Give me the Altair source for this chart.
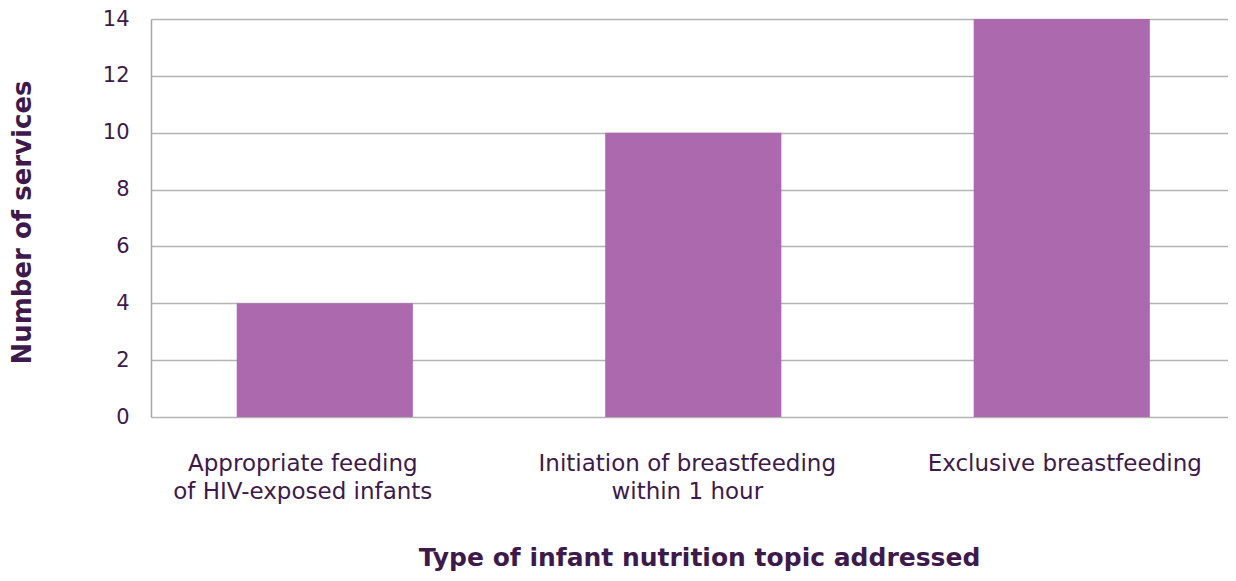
import altair as alt
import pandas as pd

categories = ["Appropriate feeding|of HIV-exposed infants",
              "Initiation of breastfeeding|within 1 hour",
              "Exclusive breastfeeding"]
values = [4, 10, 14]

df = pd.DataFrame({"topic": categories, "n": values})

TXT = "#3d1a4b"
FONT = "DejaVu Sans"

label_offset = {
    "condition": [
        {"test": "indexof(datum.value, 'Appropriate') == 0", "value": -22},
        {"test": "indexof(datum.value, 'Initiation') == 0", "value": -6},
    ],
    "value": 3,
}

chart = alt.Chart(df).mark_bar(color="#ad69ad").encode(
    x=alt.X("topic:N", sort=categories,
            scale=alt.Scale(paddingInner=0.522, paddingOuter=0.2224, align=0.523),
            axis=alt.Axis(title="Type of infant nutrition topic addressed",
                          labelExpr="split(datum.label, '|')",
                          labelAngle=0, labelFontSize=23, labelColor=TXT,
                          labelFont=FONT, labelLineHeight=28, labelPadding=53,
                          labelBaseline="alphabetic", labelLimit=500,
                          labelOffset=label_offset,
                          domain=False, ticks=False, grid=False,
                          titleFont=FONT, titleFontSize=25, titleFontWeight="bold",
                          titleColor=TXT, titleX=548, titleY=140,
                          titleBaseline="middle", titleAlign="center")),
    y=alt.Y("n:Q", scale=alt.Scale(domain=[0, 14], nice=False),
            axis=alt.Axis(title="Number of services", values=list(range(0, 15, 2)),
                          labelFontSize=21, labelColor=TXT, labelFont=FONT,
                          labelPadding=22, ticks=False,
                          domainColor="#a6a6a6", domainWidth=1.5,
                          gridColor="#b3b3b3", gridWidth=1.5,
                          titleFont=FONT, titleFontSize=26, titleFontWeight="bold",
                          titleColor=TXT, titleX=-129, titleY=203,
                          titleBaseline="middle", titleAlign="center", titleAngle=-90)),
).properties(
    width=1077, height=398,
    autosize=alt.AutoSizeParams(type="none"),
    padding={"left": 143, "top": 11, "right": 0, "bottom": 156},
).configure_view(stroke=None)

chart.save("out.html", embed_options={"renderer": "svg", "actions": False})
